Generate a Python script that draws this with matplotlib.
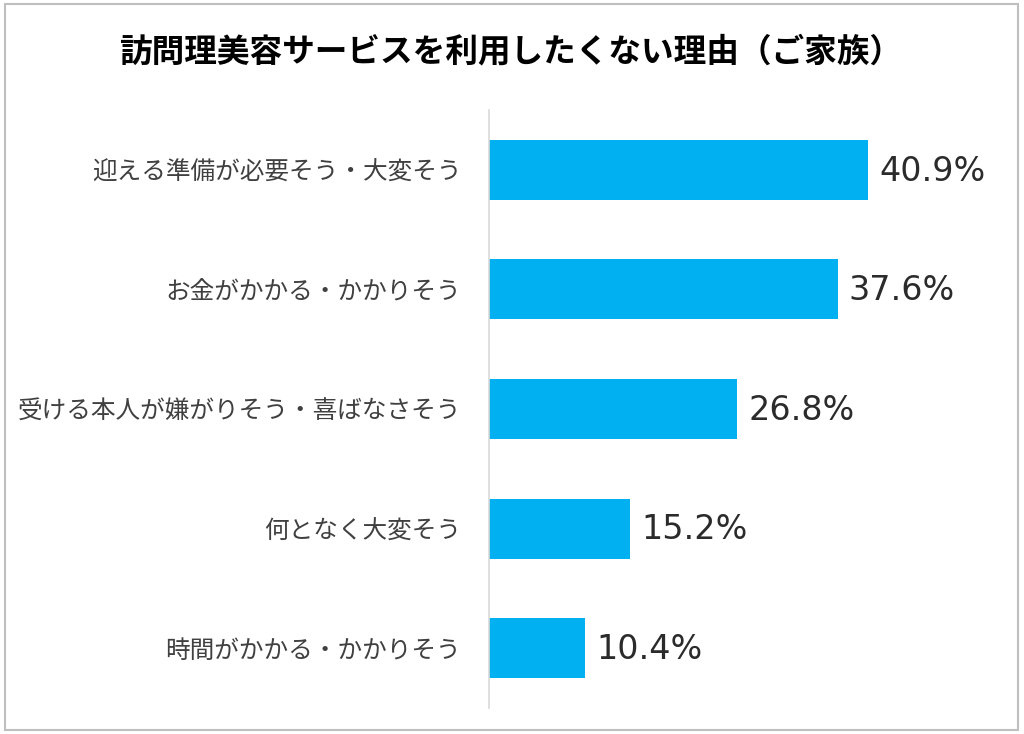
import matplotlib
matplotlib.use("Agg")
import matplotlib.pyplot as plt
from matplotlib.patches import Rectangle

plt.rcParams['font.family'] = ['Noto Sans CJK JP', 'DejaVu Sans']

title = "訪問理美容サービスを利用したくない理由（ご家族）"
categories = [
    "迎える準備が必要そう・大変そう",
    "お金がかかる・かかりそう",
    "受ける本人が嫌がりそう・喜ばなさそう",
    "何となく大変そう",
    "時間がかかる・かかりそう",
]
values = [40.9, 37.6, 26.8, 15.2, 10.4]
value_labels = ["40.9%", "37.6%", "26.8%", "15.2%", "10.4%"]

W, H = 1024, 734
fig = plt.figure(figsize=(W / 100, H / 100), dpi=100)
fig.patch.set_facecolor("white")

# outer border
fig.add_artist(Rectangle((5 / W, 4 / H), 1013 / W, 726 / H, transform=fig.transFigure,
                         fill=False, edgecolor="#bfbfbf", linewidth=1.5))

xmax = 50
px_per_unit = 9.27
ax_left, ax_bottom, ax_top = 489, 708, 110
ax_w = xmax * px_per_unit
ax = fig.add_axes([ax_left / W, (H - ax_bottom) / H, ax_w / W, (ax_bottom - ax_top) / H])

y = list(range(len(categories)))
ax.barh(y, values, height=0.5, color="#00B0F0", zorder=2)
ax.set_xlim(0, xmax)
ax.set_ylim(len(categories) - 0.5, -0.5)

for yi, v, lab in zip(y, values, value_labels):
    ax.annotate(lab, (v, yi), xytext=(8, -1), textcoords="offset points",
                va="center", ha="left", fontsize=24, family="DejaVu Sans",
                color="#2b2b2b")

ax.set_yticks(y)
ax.set_yticklabels(categories, fontsize=17.75, color="#404040")
ax.tick_params(axis="y", length=0, pad=20)
ax.set_xticks([])
for s in ["top", "right", "bottom"]:
    ax.spines[s].set_visible(False)
ax.spines["left"].set_color("#d9d9d9")
ax.spines["left"].set_linewidth(1.2)

fig.text(510.5 / W, 1 - 52 / H, title, ha="center", va="center", fontsize=23.5,
         fontweight="bold", color="#000000")

fig.savefig("out.png", dpi=100)
